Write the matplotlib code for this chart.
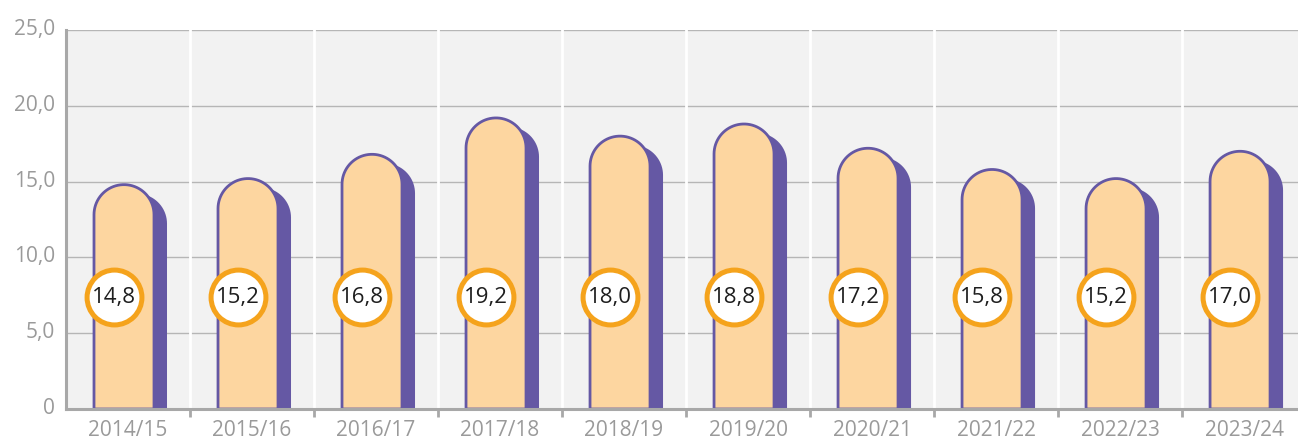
import numpy as np
import matplotlib
matplotlib.use('Agg')
import matplotlib.pyplot as plt
from matplotlib.patches import Polygon
from matplotlib.transforms import ScaledTranslation

plt.rcParams['font.family'] = ['Open Sans', 'DejaVu Sans']

# data
seasons = ['2014/15', '2015/16', '2016/17', '2017/18', '2018/19',
           '2019/20', '2020/21', '2021/22', '2022/23', '2023/24']
values = [14.8, 15.2, 16.8, 19.2, 18.0, 18.8, 17.2, 15.8, 15.2, 17.0]
y_ticks = [0, 5, 10, 15, 20, 25]
y_labels = ['0', '5,0', '10,0', '15,0', '20,0', '25,0']

W, H = 1298, 439
fig = plt.figure(figsize=(W / 100, H / 100), dpi=100)
ax_l, ax_r, ax_b, ax_t = 66, 1298, 410, 31
ax = fig.add_axes([ax_l / W, (H - ax_b) / H, (ax_r - ax_l) / W, (ax_b - ax_t) / H])
ax.set_facecolor('#f2f2f2')

xmin, xmax = -0.5, 9.435
ax.set_xlim(xmin, xmax)
ax.set_ylim(0, 25)

# pixel -> data scales
sx = (xmax - xmin) / (ax_r - ax_l)
sy = 25 / (ax_b - ax_t)

purple = '#6558a4'
peach = '#fdd6a0'
orange = '#f5a31c'

def pill(xc, h, half_w, drop=0.0):
    rx = half_w * sx
    ry = half_w * sy
    top = h - drop
    t = np.linspace(np.pi, 0, 40)
    arc = np.column_stack([xc + rx * np.cos(t), top - ry + ry * np.sin(t)])
    return np.vstack([[xc - rx, 0], arc, [xc + rx, 0]])

for i, v in enumerate(values):
    xc = i - 4 * sx
    shadow = Polygon(pill(xc + 13 * sx, v, 30, drop=9 * sy), closed=True,
                     facecolor=purple, edgecolor='none', zorder=2)
    ax.add_patch(shadow)
    front = Polygon(pill(xc, v, 30), closed=True, facecolor=peach,
                    edgecolor=purple, linewidth=2, zorder=3)
    ax.add_patch(front)

# value badges
badge_y = 7.4
bx = [i - 14 * sx for i in range(len(values))]
ax.scatter(bx, [badge_y] * len(values), s=1560, facecolor='white',
           edgecolor=orange, linewidth=3.6, zorder=4, clip_on=False)
for x, v in zip(bx, values):
    ax.text(x, badge_y, f'{v:.1f}'.replace('.', ','), ha='center', va='center',
            fontsize=16, color='#1e1e1e', zorder=5)

# grid
for y in y_ticks[1:]:
    ax.axhline(y, color='#b6b6b6', linewidth=1, zorder=1)
for b in np.arange(0.5, len(seasons) - 0.5, 1):
    ax.axvline(b, color='white', linewidth=2, zorder=1)

ax.set_yticks(y_ticks)
ax.set_yticklabels(y_labels)
ax.set_xticks(range(len(seasons)))
ax.set_xticklabels(seasons)
ax.set_xticks(np.arange(0.5, len(seasons) - 0.5, 1), minor=True)
ax.tick_params(axis='x', which='major', length=0, pad=7, labelsize=15, labelcolor='#9a9a9a')
ax.tick_params(axis='x', which='minor', length=6, width=2, color='#a8a8a8', direction='out')
ax.tick_params(axis='y', length=0, pad=8, labelsize=15, labelcolor='#9a9a9a')
shift = ScaledTranslation(0, 4 / 100, fig.dpi_scale_trans)
for lab in ax.get_yticklabels():
    lab.set_transform(lab.get_transform() + shift)

for s in ['top', 'right']:
    ax.spines[s].set_visible(False)
for s in ['left', 'bottom']:
    ax.spines[s].set_color('#a8a8a8')
    ax.spines[s].set_linewidth(2.2)
    ax.spines[s].set_zorder(6)

fig.savefig('out.png', dpi=100)
